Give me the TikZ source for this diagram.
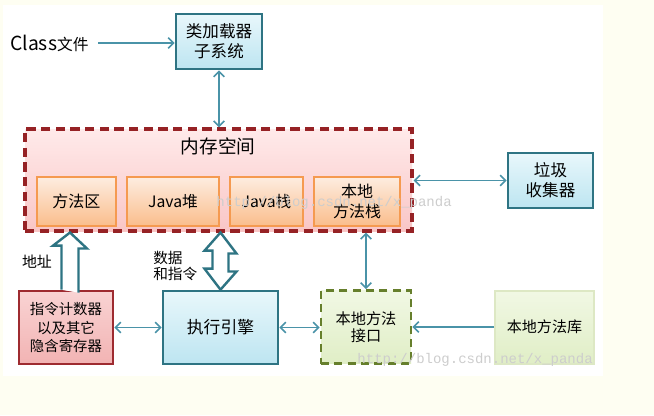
\documentclass[tikz,border=0pt]{standalone}
\usepackage{fontspec}
\setmainfont{Noto Sans CJK SC}
\newfontfamily\wmfont{Liberation Mono}
\usetikzlibrary{arrows.meta,calc}
\definecolor{bgcream}{HTML}{FEFEF2}
\definecolor{tealb}{HTML}{2E7483}
\definecolor{tealtop}{HTML}{E8F7FB}
\definecolor{tealbot}{HTML}{BDE5F1}
\definecolor{arrc}{HTML}{4A93A8}
\definecolor{memb}{HTML}{962225}
\definecolor{memtop}{HTML}{FFEAEA}
\definecolor{membot}{HTML}{F9C6C6}
\definecolor{orgb}{HTML}{F59A50}
\definecolor{orgtop}{HTML}{FDEDE0}
\definecolor{orgbot}{HTML}{FABD8C}
\definecolor{redb}{HTML}{9E2B30}
\definecolor{redtop}{HTML}{F9D3D3}
\definecolor{redbot}{HTML}{F2B3B3}
\definecolor{grnb}{HTML}{667F2C}
\definecolor{grntop}{HTML}{F1F8E4}
\definecolor{grnbot}{HTML}{E0EEC6}
\definecolor{libb}{HTML}{DDE8C4}
\definecolor{wmgray}{HTML}{CDCDCD}
\tikzset{
  box/.style={rectangle, inner sep=0pt, align=center, text=black},
  tealbox/.style={box, draw=tealb, line width=2pt, top color=tealtop, bottom color=tealbot},
  membox/.style={box, draw=memb, line width=2.3pt, dash pattern=on 7pt off 4pt, top color=memtop, bottom color=membot},
  orgbox/.style={box, draw=orgb, line width=1.6pt, top color=orgtop, bottom color=orgbot},
  redbox/.style={box, draw=redb, line width=2pt, top color=redtop, bottom color=redbot},
  grnbox/.style={box, draw=grnb, line width=2pt, dash pattern=on 6pt off 4pt, top color=grntop, bottom color=grnbot},
  libbox/.style={box, draw=libb, line width=1.5pt, top color=grntop, bottom color=grnbot},
  arr/.style={draw=arrc, line width=1.2pt, -{Straight Barb[length=4pt,width=8pt,line width=1.2pt]}},
  darr/.style={draw=arrc, line width=1.2pt, {Straight Barb[length=4pt,width=8pt,line width=1.2pt]}-{Straight Barb[length=4pt,width=8pt,line width=1.2pt]}},
  blk/.style={draw=tealb, line width=1.8pt, fill=white, line join=miter},
  lbl/.style={inner sep=0pt, text=black},
  wm/.style={inner sep=0pt, text=wmgray, font=\wmfont\fontsize{10.5}{12}\selectfont}
}
\begin{document}
\begin{tikzpicture}[x=0.75pt,y=-0.75pt]
\path[fill=bgcream] (0,0) rectangle (654,415);
\useasboundingbox (0,0) rectangle (654,415);
\fill[white] (3,5) rectangle (603,376);

% nodes
\node[lbl, anchor=west] (cls) at (10,43) {\fontsize{14.5}{16}\selectfont Class\fontsize{11.8}{16}\selectfont 文件};
\node[tealbox, minimum width=64.5pt, minimum height=41.25pt, font=\fontsize{12.4}{15}\selectfont] (loader) at (219,41.5) {类加载器\\子系统};

\node[membox, minimum width=290.25pt, minimum height=76.5pt] (mem) at (218.5,180) {};
\node[lbl, font=\fontsize{14}{16}\selectfont] (memt) at (218,146) {内存空间};

\node[orgbox, minimum width=59.25pt, minimum height=36.75pt, font=\fontsize{12}{15}\selectfont] (ma) at (76.5,201.5) {方法区};
\node[orgbox, minimum width=69pt, minimum height=36.75pt, font=\fontsize{11.8}{15}\selectfont] (heap) at (173,201.5) {Java堆};
\node[orgbox, minimum width=54.75pt, minimum height=36.75pt, font=\fontsize{11.8}{15}\selectfont] (stk) at (266.5,201.5) {Java栈};
\node[orgbox, minimum width=64.5pt, minimum height=36.75pt, font=\fontsize{12}{15}\selectfont] (nstk) at (357,201.5) {本地\\方法栈};

\node[tealbox, minimum width=63.75pt, minimum height=41.25pt, font=\fontsize{12.4}{15}\selectfont] (gc) at (550.5,180.5) {垃圾\\收集器};

\node[redbox, minimum width=70.5pt, minimum height=54.75pt, font=\fontsize{10.8}{13.9}\selectfont] (pc) at (66,327.5) {指令计数器\\以及其它\\隐含寄存器};
\node[tealbox, minimum width=86.25pt, minimum height=54.75pt, font=\fontsize{12.6}{15}\selectfont] (eng) at (220.5,327.5) {执行引擎};
\node[grnbox, minimum width=67.5pt, minimum height=54.75pt, font=\fontsize{11.4}{12.8}\selectfont] (jni) at (366,327) {本地方法\\接口};
\node[libbox, minimum width=74.25pt, minimum height=54.75pt, font=\fontsize{11.3}{14}\selectfont] (lib) at (544.5,327) {本地方法库};

\node[lbl, font=\fontsize{11.2}{13}\selectfont] (addr) at (37,262) {地址};
\node[lbl, font=\fontsize{11}{12}\selectfont, align=left, anchor=west] (data) at (153,266) {数据\\和指令};

% thin connectors
\draw[arr, shorten <=7pt] (cls.east) -- (loader.west |- cls.east);
\draw[darr] (loader.south) -- (loader.south |- mem.north);
\draw[darr] (gc.west) -- (gc.west -| mem.east);
\draw[darr] (jni.north) -- (jni.north |- mem.south);
\draw[darr] (pc.east) -- (eng.west |- pc.east);
\draw[darr] (eng.east) -- (jni.west |- eng.east);
\draw[arr] (lib.west) -- (jni.east |- lib.west);

% block arrows
\coordinate (ab) at ($(pc.north)+(4,0)$);
\coordinate (at) at (ab |- mem.south);
\fill[white] (ab) ++(-8.5,0) -- ++(0,-44) -- ++(-8.5,0) -- (at) -- ++(17,16) -- ++(-8.5,0) -- ++(0,44) -- cycle;
\draw[blk] (ab) ++(-8.5,0) -- ++(0,-44) -- ++(-8.5,0) -- (at) -- ++(17,16) -- ++(-8.5,0) -- ++(0,44);

\coordinate (db) at (eng.north);
\coordinate (dt) at (db |- mem.south);
\draw[blk] (dt) -- ++(16,21) -- ++(-8,0) -- ++(0,18) -- ++(8,0) -- (db) -- ++(-16,-21) -- ++(8,0) -- ++(0,-18) -- ++(-8,0) -- cycle;

% watermarks
\node[wm, anchor=east] (wm1) at (452,203) {http://blog.csdn.net/x\_panda};
\node[wm, anchor=east] (wm2) at (593,360) {http://blog.csdn.net/x\_panda};
\end{tikzpicture}
\end{document}
